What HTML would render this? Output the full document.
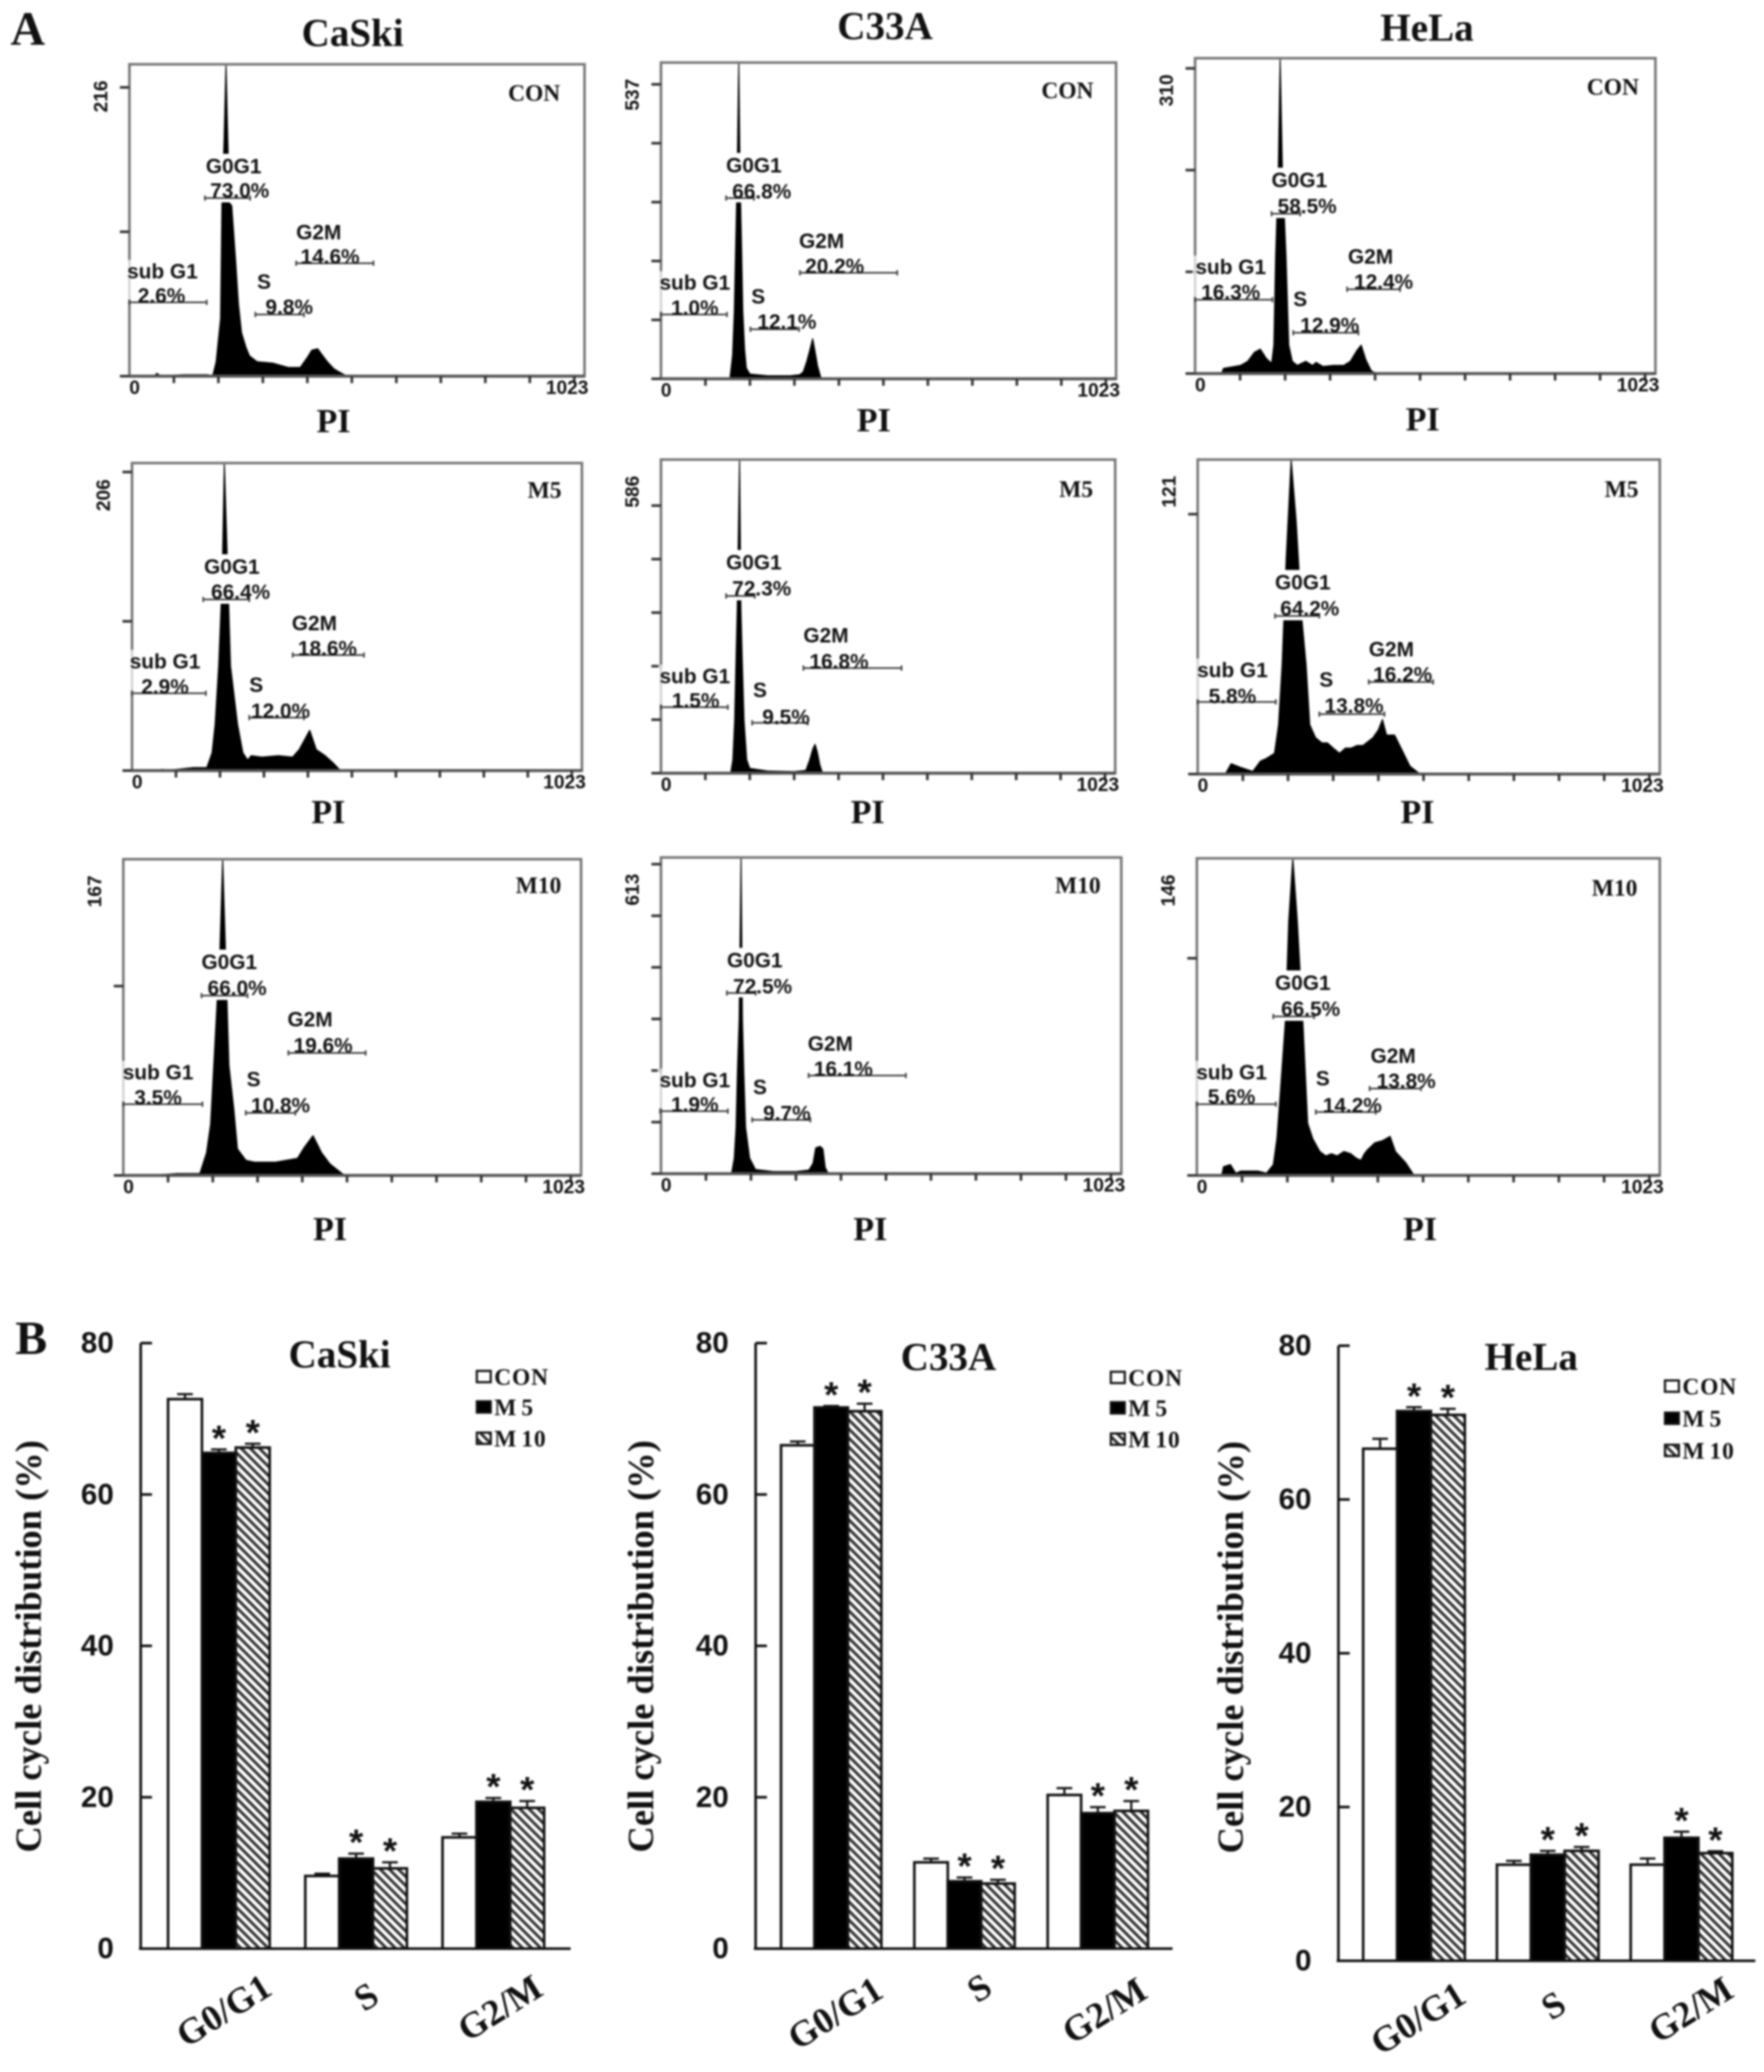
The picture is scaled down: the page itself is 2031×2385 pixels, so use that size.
<!DOCTYPE html>
<html lang="en">
<head>
<meta charset="utf-8">
<title>Cell cycle distribution figure</title>
<style>
html,body{margin:0;padding:0;background:#fff;}
svg{display:block;filter:blur(0.95px);}
text{fill:#111;}
.serif{font-family:"Liberation Serif",serif;font-weight:700;}
.sans{font-family:"Liberation Sans",sans-serif;font-weight:700;}
</style>
</head>
<body>
<svg id="figure" width="2031" height="2385" viewBox="0 0 2031 2385" xmlns="http://www.w3.org/2000/svg">
  <defs>
    <pattern id="hatch" width="7.4" height="7.4" patternUnits="userSpaceOnUse" patternTransform="rotate(-45)">
      <rect width="7.4" height="7.4" fill="#fff"></rect>
      <rect width="3.4" height="7.4" fill="#333"></rect>
    </pattern>
  </defs>
  <rect width="2031" height="2385" fill="#fff"></rect>
  <g id="layer"></g>
</svg>
<script>
/* ---------- Histogram data: PI channel and event count pairs ---------- */
const gatePhases = ['sub G1', 'G0G1', 'S', 'G2M'];
const histMaxLabels = [216, 537, 310, 206, 586, 121, 167, 613, 146];

const caskiConChannels = [0,55,62,70,120,175,187,195,205,208,213,217,221,225,230,239,245,252,262,270,287,322,357,384,400,410,423,435,445,460,471,489];
const caskiConCounts   = [0,0,2,0,1,1,0,10,40,118,165,216,165,120,118,79,50,30,20,14,10,9,6,6,13,18,19,14,10,5,3,0];
const caskiConPct = ['2.6%','73.0%','9.8%','14.6%'];

const c33aConChannels = [155,161,165,168,171,175,178,181,184,188,192,200,240,290,312,320,328,335,341,346,352,360];
const c33aConCounts   = [0,40,115,230,330,537,330,230,115,50,18,8,5,5,7,12,30,50,68,48,22,0];
const c33aConPct = ['1.0%','66.8%','12.1%','20.2%'];

const helaConChannels = [59,63,101,117,132,145,158,170,175,179,185,189,194,202,208,216,227,246,261,269,284,307,330,345,360,369,379,391,402];
const helaConCounts   = [0,5,8,12,21,24,15,10,28,114,199,310,199,114,28,12,8,12,8,11,7,8,8,12,23,28,14,3,0];
const helaConPct = ['16.3%','58.5%','12.9%','12.4%'];

const caskiM5Channels = [69,75,139,170,182,189,197,205,210,218,224,240,252,263,271,295,333,365,380,404,419,439,458,474];
const caskiM5Counts   = [1,0,2,2,12,31,70,128,206,128,70,31,12,7,10,9,10,9,14,27,14,10,5,0];
const caskiM5Pct = ['2.9%','66.4%','12.0%','18.6%'];

const c33aM5Channels = [157,162,166,169,172,177,180,183,187,193,200,240,300,326,335,342,347,352,358,364];
const c33aM5Counts   = [0,25,100,210,310,586,310,210,100,25,9,4,3,5,25,45,54,40,15,0];
const c33aM5Pct = ['1.5%','72.3%','9.5%','16.8%'];

const helaM5Channels = [61,74,96,122,139,152,170,179,187,196,207,218,231,240,248,261,275,287,300,314,327,340,353,366,388,400,409,418,436,453,470,492];
const helaM5Counts   = [0,4,2.5,1,5,6,8,19,42,83,121,97,59,42,19,14,12,12,10,8,10,10,11,11,14,17,21,15,15,9,3,0];
const helaM5Pct = ['5.8%','64.2%','13.8%','16.2%'];

const caskiM10Channels = [60,120,160,171,186,195,209,216,222,228,236,247,255,274,293,340,389,405,424,443,462,489,495];
const caskiM10Counts   = [0,1,1,1,12,27,89,120,167,120,58,35,14,8,7,7,9,15,21,12,6,1,0];
const caskiM10Pct = ['3.5%','66.0%','10.8%','19.6%'];

const c33aM10Channels = [157,163,167,170,174,178,181,184,188,197,210,250,300,329,338,344,354,360,365,372];
const c33aM10Counts   = [0,30,90,200,300,613,300,200,90,30,8,4,4,7,20,50,53,48,12,0];
const c33aM10Pct = ['1.9%','72.5%','9.7%','16.1%'];

const helaM10Channels = [55,59,74,86,97,135,154,169,177,184,196,203,212,222,234,245,256,264,272,285,297,310,325,340,352,363,370,378,393,410,427,439,461,480];
const helaM10Counts   = [0,4,5,1,2,2,1,5,17,37,72,117,146,117,72,24,17,14,11,9,10,9,11,10,8,7,10,12,15,16,18,11,6,0];
const helaM10Pct = ['5.6%','66.5%','14.2%','13.8%'];

/* ---------- Bar chart data ---------- */
const barCategories = ['G0/G1', 'S', 'G2/M'];
const barTicks = [0, 20, 40, 60, 80];
const barSeriesNames = ['CON', 'M 5', 'M 10'];

const caskiBarCon = [72.6, 9.6, 14.7];
const caskiBarM5  = [65.5, 11.9, 19.4];
const caskiBarM10 = [66.2, 10.6, 18.6];
const caskiErrCon = [0.65, 0.3, 0.5];
const caskiErrM5  = [0.45, 0.65, 0.5];
const caskiErrM10 = [0.5, 0.8, 0.9];

const c33aBarCon = [66.5, 11.4, 20.3];
const c33aBarM5  = [71.5, 8.9, 17.9];
const c33aBarM10 = [71.0, 8.6, 18.2];
const c33aErrCon = [0.5, 0.5, 0.9];
const c33aErrM5  = [0.2, 0.5, 0.8];
const c33aErrM10 = [1.0, 0.5, 1.3];

const helaBarCon = [66.6, 12.5, 12.5];
const helaBarM5  = [71.5, 13.8, 16.0];
const helaBarM10 = [71.0, 14.3, 14.0];
const helaErrCon = [1.3, 0.5, 0.8];
const helaErrM5  = [0.5, 0.5, 0.8];
const helaErrM10 = [0.8, 0.5, 0.25];

/* ---------- Layout (pixels), separate from the data ---------- */
const histLayouts = [
 {id:'caski-con',tag:'CON',f:[149,673,74,433],pi:[384,485],c:[615,107],g:[[149,238,348,187,313,186,341],[236,288,228,269,192,276,220],[294,350,362,304,325,333,354],[341,430,303,367,268,380,296]]},
 {id:'c33a-con',tag:'CON',f:[761,1285,72,436],pi:[1006,484],c:[1229,104],g:[[761,837,362,800,326,800,355],[836,868,228,868,191,877,221],[864,920,379,873,342,906,371],[921,1033,314,946,278,961,307]]},
 {id:'hela-con',tag:'CON',f:[1376,1906,67,430],pi:[1638,483],c:[1857,100],g:[[1376,1465,345,1417,308,1417,337],[1464,1497,246,1496,208,1505,238],[1489,1564,383,1497,345,1531,375],[1551,1612,333,1578,296,1593,325]]},
 {id:'caski-m5',tag:'M5',f:[152,670,533,887],pi:[378,935],c:[627,564],g:[[152,237,798,190,762,190,791],[234,287,690,267,653,277,682],[287,350,826,295,789,323,819],[337,419,754,362,718,377,747]]},
 {id:'c33a-m5',tag:'M5',f:[761,1284,529,890],pi:[999,935],c:[1239,563],g:[[761,838,814,800,779,801,807],[836,869,686,868,648,877,678],[866,930,832,875,795,905,826],[925,1038,769,951,732,966,762]]},
 {id:'hela-m5',tag:'M5',f:[1379,1911,529,891],pi:[1632,935],c:[1867,563],g:[[1379,1469,808,1419,772,1419,802],[1468,1519,709,1500,671,1508,701],[1519,1594,822,1527,783,1559,813],[1576,1650,785,1602,748,1615,777]]},
 {id:'caski-m10',tag:'M10',f:[142,669,989,1353],pi:[380,1415],c:[620,1019],g:[[142,233,1271,182,1235,182,1264],[232,285,1146,264,1108,273,1138],[283,340,1281,292,1243,323,1273],[332,421,1212,357,1174,372,1204]]},
 {id:'c33a-m10',tag:'M10',f:[761,1291,987,1351],pi:[1002,1415],c:[1241,1019],g:[[760,838,1279,800,1244,800,1272],[837,870,1143,869,1106,878,1136],[866,933,1289,875,1252,906,1282],[931,1043,1238,956,1202,971,1231]]},
 {id:'hela-m10',tag:'M10',f:[1378,1911,988,1353],pi:[1635,1415],c:[1859,1022],g:[[1378,1469,1271,1418,1235,1418,1263],[1466,1513,1170,1500,1132,1509,1162],[1515,1584,1280,1523,1242,1557,1273],[1577,1636,1253,1604,1216,1619,1245]]}
];
const histSeries = [
 [caskiConChannels,caskiConCounts,caskiConPct],
 [c33aConChannels,c33aConCounts,c33aConPct],
 [helaConChannels,helaConCounts,helaConPct],
 [caskiM5Channels,caskiM5Counts,caskiM5Pct],
 [c33aM5Channels,c33aM5Counts,c33aM5Pct],
 [helaM5Channels,helaM5Counts,helaM5Pct],
 [caskiM10Channels,caskiM10Counts,caskiM10Pct],
 [c33aM10Channels,c33aM10Counts,c33aM10Pct],
 [helaM10Channels,helaM10Counts,helaM10Pct]
];
const barLayouts = [
 {id:'caski',title:'CaSki',axisX:162,axisEnd:657,y80:1546,y0:2243,c0:252,step:158,bw:39,titleXY:[391,1559],yTitleX:34,yTitleY:1895,legend:[549,[1585,1620,1656]],catXY:[[258,2315],[422,2299],[576,2312]],
  vals:[caskiBarCon,caskiBarM5,caskiBarM10],errs:[caskiErrCon,caskiErrM5,caskiErrM10]},
 {id:'c33a',title:'C33A',axisX:870,axisEnd:1350,y80:1546,y0:2243,c0:957,step:153.5,bw:38.5,titleXY:[1092,1562],yTitleX:739,yTitleY:1895,legend:[1279,[1586,1621,1657]],catXY:[[962,2318],[1128,2289],[1272,2315]],
  vals:[c33aBarCon,c33aBarM5,c33aBarM10],errs:[c33aErrCon,c33aErrM5,c33aErrM10]},
 {id:'hela',title:'HeLa',axisX:1541,axisEnd:2021,y80:1549,y0:2257,c0:1628,step:154,bw:39,titleXY:[1763,1562],yTitleX:1418,yTitleY:1896,legend:[1917,[1596,1633,1670]],catXY:[[1633,2324],[1789,2309],[1947,2314]],
  vals:[helaBarCon,helaBarM5,helaBarM10],errs:[helaErrCon,helaErrM5,helaErrM10]}
];
const columnTitles = [['CaSki',406,38],['C33A',1019,30],['HeLa',1643,32]];

/* ---------- Helpers ---------- */
const NS = document.getElementById('figure').namespaceURI;
const layer = document.getElementById('layer');
function make(parent, tag, attrs) {
  const el = document.createElementNS(NS, tag);
  for (const k in attrs) el.setAttribute(k, attrs[k]);
  parent.appendChild(el);
  return el;
}
function label(parent, str, cx, cy, size, cls, rot, ls) {
  const el = make(parent, 'text', {x:cx, y:cy, 'font-size':size, 'text-anchor':'middle', 'dominant-baseline':'central', class:cls});
  if (rot) el.setAttribute('transform', 'rotate(' + rot + ' ' + cx + ' ' + cy + ')');
  if (ls) el.setAttribute('letter-spacing', ls);
  el.textContent = str;
  return el;
}
function line(parent, x1, y1, x2, y2, color, w) {
  return make(parent, 'line', {x1:x1, y1:y1, x2:x2, y2:y2, stroke:color, 'stroke-width':w});
}

/* ---------- Panel letters and column titles ---------- */
const letterA = label(layer, 'A', 32, 33, 55, 'serif');


const letterB = label(layer, 'B', 36, 1540, 55, 'serif');


columnTitles.forEach(function (t) {
  const el = label(layer, t[0], t[1], t[2], 45, 'serif');
  
  
});

/* ---------- Histograms ---------- */
histLayouts.forEach(function (p, i) {
  const channels = histSeries[i][0], counts = histSeries[i][1], pct = histSeries[i][2];
  const maxCount = histMaxLabels[i];
  const x0 = p.f[0], x1 = p.f[1], y0 = p.f[2], y1 = p.f[3];
  const xScale = function (ch) { return x0 + ch / 1023 * (x1 - x0); };
  const yScale = function (c) { return y1 - Math.min(c, maxCount) / maxCount * (y1 - y0); };

  const g = make(layer, 'g', {});
  
  

  let d = 'M' + xScale(channels[0]) + ' ' + y1;
  channels.forEach(function (ch, k) { d += ' L' + xScale(ch).toFixed(1) + ' ' + yScale(counts[k]).toFixed(1); });
  d += ' L' + xScale(channels[channels.length - 1]) + ' ' + y1 + ' Z';
  const area = make(g, 'path', {d:d, fill:'#000', stroke:'#000', 'stroke-width':1.2, 'stroke-linejoin':'round'});
  
  

  const frame = make(g, 'rect', {x:x0, y:y0, width:x1 - x0, height:y1 - y0, fill:'none', stroke:'#777', 'stroke-width':3});
  
  
  const baseAxis = line(g, x0, y1, x1, y1, '#555', 3.5);
  
  

  for (let ch = 100; ch < 1023; ch += 100) {
    const tx = line(g, xScale(ch), y1, xScale(ch), y1 + 8, '#333', 3);
    
    
  }
  for (let c = 0; c <= maxCount; c += 100) {
    const ty = line(g, x0 - 11, yScale(c), x0, yScale(c), '#333', 3);
    
    
  }
  const maxLabel = label(g, String(maxCount), x0 - 33, y0 + 37, 22, 'sans', -90);
  
  
  const zero = label(g, '0', x0 + 6, y1 + 13, 22, 'sans');
  
  
  const top = label(g, '1023', x1 - 20, y1 + 13, 22, 'sans');
  
  

  p.g.forEach(function (gt, k) {
    if (k === 1) {
      const mask = make(g, 'rect', {x:gt[3] - 38, y:gt[4] - 15, width:80, height:gt[2] + 5 - (gt[4] - 15), fill:'#fff'});
      
      
    }
    if (k === 0) {
      const fade = make(g, 'rect', {x:gt[0] - 3, y:gt[4] - 14, width:7, height:gt[2] - 3 - (gt[4] - 14), fill:'#fff', opacity:0.7});
      
      
    }
    const gl = line(g, gt[0], gt[2], gt[1], gt[2], '#444', 2);
    
    
    const e0 = line(g, gt[0], gt[2] - 3, gt[0], gt[2] + 3, '#444', 2);
    
    
    const e1 = line(g, gt[1], gt[2] - 3, gt[1], gt[2] + 3, '#444', 2);
    
    
    const name = label(g, gatePhases[k], gt[3], gt[4], 24, 'sans');
    
    
    const val = label(g, pct[k], gt[5], gt[6], 24, 'sans');
    
    
  });

  const tag = label(g, p.tag, p.c[0], p.c[1], 27, 'serif');
  
  
  const pi = label(g, 'PI', p.pi[0], p.pi[1], 39, 'serif');
  
  
});

/* ---------- Bar charts ---------- */
barLayouts.forEach(function (c) {
  const g = make(layer, 'g', {});
  
  
  const yScale = function (v) { return c.y0 - v / 80 * (c.y0 - c.y80); };
  const fills = ['#fff', '#000', 'url(#hatch)'];

  const yAxis = line(g, c.axisX, c.y80, c.axisX, c.y0, '#111', 3);
  
  

  barTicks.forEach(function (t) {
    const tk = line(g, c.axisX, yScale(t), c.axisX + 13, yScale(t), '#111', 3);
    
    
    const tl = make(g, 'text', {x:c.axisX - 31, y:yScale(t), 'font-size':34, 'text-anchor':'end', 'dominant-baseline':'central', class:'sans'});
    tl.textContent = String(t);
    
    
  });

  barCategories.forEach(function (cat, i) {
    const center = c.c0 + c.step * i;
    c.vals.forEach(function (series, s) {
      const bx = center + (s - 1.5) * c.bw;
      const v = series[i], e = c.errs[s][i];
      const errLine = line(g, bx + c.bw / 2, yScale(v), bx + c.bw / 2, yScale(v + e), '#111', 2.5);
      
      
      const errCap = line(g, bx + c.bw / 2 - 9, yScale(v + e), bx + c.bw / 2 + 9, yScale(v + e), '#111', 2.5);
      
      
      const bar = make(g, 'rect', {x:bx, y:yScale(v), width:c.bw, height:c.y0 - yScale(v), fill:fills[s], stroke:'#111', 'stroke-width':3});
      
      
      if (s > 0) {
        const star = label(g, '*', bx + c.bw / 2, yScale(v + e) - 13, 42, 'sans');
        
        
      }
    });
    const catLabel = label(g, cat, c.catXY[i][0], c.catXY[i][1], 42, 'serif', -32);
    
    
  });

  const xAxis = line(g, c.axisX - 2, c.y0, c.axisEnd, c.y0, '#111', 3);
  
  

  const yTitle = label(g, 'Cell cycle distribution (%)', c.yTitleX, c.yTitleY, 42, 'serif', -90);
  
  
  const title = label(g, c.title, c.titleXY[0], c.titleXY[1], 45, 'serif');
  
  

  barSeriesNames.forEach(function (nm, s) {
    const ly = c.legend[1][s];
    const sw = make(g, 'rect', {x:c.legend[0], y:ly - 7, width:16, height:13, fill:fills[s], stroke:'#111', 'stroke-width':2.5});
    
    
    const lt = make(g, 'text', {x:c.legend[0] + 20, y:ly, 'font-size':27, 'dominant-baseline':'central', class:'serif', 'letter-spacing':1, 'word-spacing':-3});
    lt.textContent = nm;
    
    
  });
});
</script>
</body>
</html>
